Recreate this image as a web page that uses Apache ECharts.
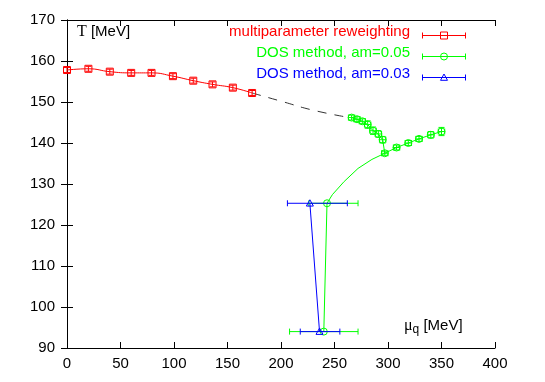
<!DOCTYPE html>
<html>
<head>
<meta charset="utf-8">
<script src="https://cdn.jsdelivr.net/npm/echarts@6/dist/echarts.min.js"></script>
<style>
  html, body { margin: 0; padding: 0; background: #fff; }
  #chart { width: 545px; height: 382px; }
</style>
</head>
<body>
<div id="chart"></div>
<script>
// ticks
const xTicks = [0, 50, 100, 150, 200, 250, 300, 350, 400];
const yTicks = [90, 100, 110, 120, 130, 140, 150, 160, 170];

// multiparameter reweighting
const muRW = [0, 20, 40, 60, 79, 99, 118, 136, 155, 173];
const tRW = [157.8, 158.1, 157.4, 157.1, 157.1, 156.3, 155.2, 154.3, 153.5, 152.2];
const tRWErr = [0.6, 0.6, 0.6, 0.6, 0.6, 0.6, 0.6, 0.6, 0.6, 0.6];

// dashed extrapolation
const muDash = [173, 200, 230, 262];
const tDash = [152.2, 150.2, 148.0, 146.3];

// DOS am=0.05
const muDos5 = [266, 271, 276, 281, 286, 291, 295, 297, 308, 319, 329, 340, 350, 243, 240];
const tDos5 = [146.2, 145.8, 145.3, 144.5, 143.0, 142.2, 140.8, 137.5, 138.9, 140.0, 141.0, 142.0, 142.8, 125.3, 94.0];
const muErr5 = [3, 3, 3, 3, 3, 3, 3, 3, 3, 3, 3, 3, 3, 0, 0];
const muLo5 = [null, null, null, null, null, null, null, null, null, null, null, null, null, 226, 208];
const muHi5 = [null, null, null, null, null, null, null, null, null, null, null, null, null, 272, 272];
const tErr5 = [0.6, 0.6, 0.6, 0.9, 0.9, 0.8, 0.8, 0.5, 0.6, 0.6, 0.6, 0.8, 1.0, 0, 0];
// green branch line and curve down to the low-T points
const muDos5Line = [266, 271, 276, 281, 286, 291, 295, 297, 308, 319, 329, 340, 350];
const tDos5Line = [146.2, 145.8, 145.3, 144.5, 143.0, 142.2, 140.8, 137.5, 138.9, 140.0, 141.0, 142.0, 142.8];
const muDos5Curve = [297, 285, 272, 259, 248, 243, 240];
const tDos5Curve = [137.5, 136.0, 133.8, 130.6, 127.4, 125.3, 94.0];

// DOS am=0.03
const muDos3 = [227, 236];
const tDos3 = [125.3, 94.0];
const muLo3 = [206, 218];
const muHi3 = [262, 255];

const RED = '#ff0000', GREEN = '#00ff00', BLUE = '#0000ff';

function errData(mu, t, lo, hi, tErr) {
  return mu.map((m, i) => [m, t[i], lo[i], hi[i], t[i] - tErr[i], t[i] + tErr[i]]);
}

function makeErrSeries(name, data, color, symbol) {
  return {
    type: 'custom',
    name: name,
    data: data,
    z: 5,
    renderItem: function (params, api) {
      const x = api.value(0), y = api.value(1);
      const p = api.coord([x, y]);
      const ch = [];
      const st = { stroke: color, lineWidth: 1, fill: null };
      const cap = 3;
      const lo = api.value(2), hi = api.value(3);
      if (lo !== hi && lo != null && !isNaN(lo)) {
        const a = api.coord([lo, y]), b = api.coord([hi, y]);
        ch.push({ type: 'line', shape: { x1: a[0], y1: a[1], x2: b[0], y2: b[1] }, style: st });
        ch.push({ type: 'line', shape: { x1: a[0], y1: a[1] - cap, x2: a[0], y2: a[1] + cap }, style: st });
        ch.push({ type: 'line', shape: { x1: b[0], y1: b[1] - cap, x2: b[0], y2: b[1] + cap }, style: st });
      }
      const ylo = api.value(4), yhi = api.value(5);
      if (ylo !== yhi) {
        const a = api.coord([x, ylo]), b = api.coord([x, yhi]);
        ch.push({ type: 'line', shape: { x1: a[0], y1: a[1], x2: b[0], y2: b[1] }, style: st });
        ch.push({ type: 'line', shape: { x1: a[0] - cap, y1: a[1], x2: a[0] + cap, y2: a[1] }, style: st });
        ch.push({ type: 'line', shape: { x1: b[0] - cap, y1: b[1], x2: b[0] + cap, y2: b[1] }, style: st });
      }
      const s = 3.5;
      if (symbol === 'square') {
        ch.push({ type: 'rect', shape: { x: p[0] - s, y: p[1] - s, width: 2 * s, height: 2 * s }, style: st });
      } else if (symbol === 'circle') {
        ch.push({ type: 'circle', shape: { cx: p[0], cy: p[1], r: s }, style: st });
      } else {
        ch.push({ type: 'polygon', shape: { points: [[p[0], p[1] - s], [p[0] + s, p[1] + s * 0.8], [p[0] - s, p[1] + s * 0.8]] }, style: st });
      }
      return { type: 'group', children: ch };
    }
  };
}

function pairs(a, b) { return a.map((v, i) => [v, b[i]]); }

const chart = echarts.init(document.getElementById('chart'), null, { renderer: 'canvas' });

const axisFont = { color: '#000', fontSize: 15, fontFamily: 'Liberation Sans, Arial, sans-serif' };

chart.setOption({
  animation: false,
  backgroundColor: '#fff',
  grid: { left: 67, right: 50, top: 20, bottom: 34 },
  xAxis: [
    {
      type: 'value', min: 0, max: 400, interval: 50,
      axisLine: { lineStyle: { color: '#000', width: 1 } },
      axisTick: { inside: true, length: 6, lineStyle: { color: '#000' } },
      axisLabel: Object.assign({ margin: 8 }, axisFont),
      splitLine: { show: false }
    },
    {
      type: 'value', min: 0, max: 400, interval: 50, position: 'top',
      axisLine: { show: true, lineStyle: { color: '#000', width: 1 } },
      axisTick: { inside: true, length: 6, lineStyle: { color: '#000' } },
      axisLabel: { show: false },
      splitLine: { show: false }
    }
  ],
  yAxis: [
    {
      type: 'value', min: 90, max: 170, interval: 10,
      axisLine: { show: true, lineStyle: { color: '#000', width: 1 } },
      axisTick: { show: true, inside: true, length: 6, lineStyle: { color: '#000' } },
      axisLabel: Object.assign({ margin: 12 }, axisFont),
      splitLine: { show: false }
    },
    {
      type: 'value', min: 90, max: 170, interval: 10, position: 'right',
      axisLine: { show: true, lineStyle: { color: '#000', width: 1 } },
      axisTick: { show: true, inside: true, length: 6, lineStyle: { color: '#000' } },
      axisLabel: { show: false },
      splitLine: { show: false }
    }
  ],
  graphic: [
    {
      type: 'text', left: 77, top: 24,
      style: {
        text: '{t|T} [MeV]',
        rich: { t: { fontFamily: 'Liberation Serif, serif', fontSize: 16, fill: '#000' } },
        fontFamily: 'Liberation Sans, sans-serif', fontSize: 15, fill: '#000'
      }
    },
    {
      type: 'text', left: 404, top: 318,
      style: {
        text: '{m|μ}{q|q} [MeV]',
        rich: {
          m: { fontFamily: 'Liberation Serif, serif', fontSize: 16, fill: '#000' },
          q: { fontFamily: 'Liberation Sans, sans-serif', fontSize: 12, fill: '#000', verticalAlign: 'bottom', padding: [8, 0, 0, 0] }
        },
        fontFamily: 'Liberation Sans, sans-serif', fontSize: 15, fill: '#000'
      }
    },
    // legend
    { type: 'text', right: 135, top: 24, style: { text: 'multiparameter reweighting', fill: RED, fontSize: 15, fontFamily: 'Liberation Sans, sans-serif' } },
    { type: 'text', right: 135, top: 45, style: { text: 'DOS method, am=0.05', fill: GREEN, fontSize: 15, fontFamily: 'Liberation Sans, sans-serif' } },
    { type: 'text', right: 135, top: 66, style: { text: 'DOS method, am=0.03', fill: BLUE, fontSize: 15, fontFamily: 'Liberation Sans, sans-serif' } },
    {
      type: 'group', left: 420, top: 29.5,
      children: [
        { type: 'line', shape: { x1: 0, y1: 3.5, x2: 43, y2: 3.5 }, style: { stroke: RED } },
        { type: 'line', shape: { x1: 0, y1: 0.5, x2: 0, y2: 6.5 }, style: { stroke: RED } },
        { type: 'line', shape: { x1: 43, y1: 0.5, x2: 43, y2: 6.5 }, style: { stroke: RED } },
        { type: 'rect', shape: { x: 18, y: 0, width: 7, height: 7 }, style: { stroke: RED, fill: null } }
      ]
    },
    {
      type: 'group', left: 420, top: 50.5,
      children: [
        { type: 'line', shape: { x1: 0, y1: 3.5, x2: 43, y2: 3.5 }, style: { stroke: GREEN } },
        { type: 'line', shape: { x1: 0, y1: 0.5, x2: 0, y2: 6.5 }, style: { stroke: GREEN } },
        { type: 'line', shape: { x1: 43, y1: 0.5, x2: 43, y2: 6.5 }, style: { stroke: GREEN } },
        { type: 'circle', shape: { cx: 21.5, cy: 3.5, r: 3.5 }, style: { stroke: GREEN, fill: null } }
      ]
    },
    {
      type: 'group', left: 420, top: 71.5,
      children: [
        { type: 'line', shape: { x1: 0, y1: 3.5, x2: 43, y2: 3.5 }, style: { stroke: BLUE } },
        { type: 'line', shape: { x1: 0, y1: 0.5, x2: 0, y2: 6.5 }, style: { stroke: BLUE } },
        { type: 'line', shape: { x1: 43, y1: 0.5, x2: 43, y2: 6.5 }, style: { stroke: BLUE } },
        { type: 'polygon', shape: { points: [[21.5, 0], [25, 6.3], [18, 6.3]] }, style: { stroke: BLUE, fill: null } }
      ]
    }
  ],
  series: [
    {
      type: 'line', data: pairs(muRW, tRW), smooth: true, showSymbol: false,
      lineStyle: { color: RED, width: 1 }
    },
    {
      type: 'line', data: pairs(muDash, tDash), smooth: true, showSymbol: false,
      lineStyle: { color: '#333', width: 1, type: [9, 8] }
    },
    {
      type: 'line', data: pairs(muDos5Line, tDos5Line), showSymbol: false,
      lineStyle: { color: GREEN, width: 1 }
    },
    {
      type: 'line', data: pairs(muDos5Curve, tDos5Curve), showSymbol: false,
      lineStyle: { color: GREEN, width: 1 }
    },
    {
      type: 'line', data: pairs(muDos3, tDos3), showSymbol: false,
      lineStyle: { color: BLUE, width: 1 }
    },
    makeErrSeries('multiparameter reweighting',
      errData(muRW, tRW, muRW.map(() => null), muRW.map(() => null), tRWErr), RED, 'square'),
    makeErrSeries('DOS method, am=0.05',
      muDos5.map((m, i) => [m, tDos5[i],
        muLo5[i] != null ? muLo5[i] : m - muErr5[i],
        muHi5[i] != null ? muHi5[i] : m + muErr5[i],
        tDos5[i] - tErr5[i], tDos5[i] + tErr5[i]]), GREEN, 'circle'),
    makeErrSeries('DOS method, am=0.03',
      errData(muDos3, tDos3, muLo3, muHi3, [0, 0]), BLUE, 'triangle')
  ]
});
</script>
</body>
</html>
